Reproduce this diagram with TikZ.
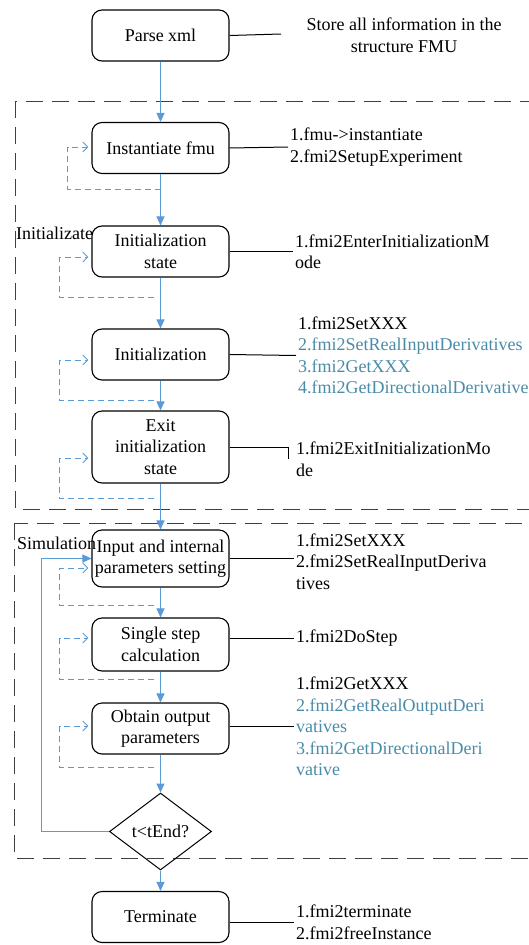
\documentclass[tikz,border=0pt]{standalone}
\usepackage{fontspec}
\setmainfont{Liberation Serif}
\usepackage{xcolor}
\definecolor{flowblue}{HTML}{5B9BD5}
\definecolor{apiblue}{HTML}{4A8BA8}
\usetikzlibrary{arrows.meta,shapes.geometric}

\begin{document}
\begin{tikzpicture}[x=1pt,y=-1pt,
    every node/.style={font=\fontsize{18}{21.5}\selectfont},
    proc/.style={draw,line width=1.1pt,rounded corners=10pt,minimum width=137pt,minimum height=51pt,align=center,inner sep=2pt},
    note/.style={align=left,inner sep=2pt,anchor=west},
    flow/.style={flowblue,line width=1pt,-{Triangle[length=9pt,width=8pt]}},
    loopback/.style={flowblue,line width=0.9pt,dash pattern=on 6pt off 4pt,-{Straight Barb[length=5pt,width=10pt]},shorten >=3pt},
    annot/.style={line width=1pt},
    region/.style={line width=1pt,black!75,dash pattern=on 17pt off 9pt}]

    \useasboundingbox (0,0) rectangle (529,945);

    \draw[region] (15,101) rectangle (570,509);
    \draw[region] (14,523) rectangle (570,858);

    \node[proc] (parse) at (160.5,35.5) {Parse xml};
    \node[proc] (inst) at (160.5,148) {Instantiate fmu};
    \node[proc] (initst) at (160.5,251.5) {Initialization\\state};
    \node[proc] (init) at (160.5,354.5) {Initialization};
    \node[proc,minimum height=72pt] (exitst) at (160.5,447) {Exit\\initialization\\state};
    \node[proc,minimum height=57pt] (input) at (160.5,558.5) {Input and internal\\parameters setting};
    \node[proc,minimum height=53pt] (single) at (160.5,644.5) {Single step\\calculation};
    \node[proc] (obtain) at (160.5,728.5) {Obtain output\\parameters};
    \node[draw,diamond,line width=1pt,minimum width=102pt,minimum height=77pt,inner sep=0pt] (cond) at (160.5,831.5) {t<tEnd?};
    \node[proc] (term) at (160.5,917) {Terminate};

    \node[inner sep=0pt,anchor=west] (initlabel) at (16,233) {Initializate};
    \node[inner sep=0pt,anchor=west] (simlabel) at (17,543) {Simulation};

    \node[align=center,inner sep=2pt] (parsenote) at (404,35) {Store all information in the\\structure FMU};
    \node[note] (instnote) at (288,147) {1.fmu->instantiate\\2.fmi2SetupExperiment};
    \node[note] (initstnote) at (293,251.5) {1.fmi2EnterInitializationM\\ode};
    \node[note] (initnote) at (296,355.5) {1.fmi2SetXXX\\\textcolor{apiblue}{2.fmi2SetRealInputDerivatives}\\\textcolor{apiblue}{3.fmi2GetXXX}\\\textcolor{apiblue}{4.fmi2GetDirectionalDerivatives}};
    \node[note] (exitnote) at (294,459) {1.fmi2ExitInitializationMo\\de};
    \node[note] (inputnote) at (294,561.5) {1.fmi2SetXXX\\2.fmi2SetRealInputDeriva\\tives};
    \node[note] (singlenote) at (294,638.5) {1.fmi2DoStep};
    \node[note] (obtainnote) at (294,726.5) {1.fmi2GetXXX\\\textcolor{apiblue}{2.fmi2GetRealOutputDeri}\\\textcolor{apiblue}{vatives}\\\textcolor{apiblue}{3.fmi2GetDirectionalDeri}\\\textcolor{apiblue}{vative}};
    \node[note] (termnote) at (294,922.5) {1.fmi2terminate\\2.fmi2freeInstance};

    \coordinate (parseend) at (281,34);
    \draw[annot] (parse.east) -- (parseend);
    \draw[annot] (inst.east) -- (instnote.west);
    \draw[annot] (initst.east) -- (initstnote.west);
    \draw[annot] (init.east) -- (initnote.west);
    \draw[annot] (exitst.east) -| ([xshift=-6pt]exitnote.west);
    \draw[annot] (input.east) -- (inputnote.west |- input.east);
    \draw[annot] (single.east |- singlenote.west) -- (singlenote.west);
    \draw[annot] (obtain.east |- obtainnote.west) -- (obtainnote.west);
    \draw[annot] (term.east |- termnote.west) -- (termnote.west);

    \draw[flow] (parse) -- (inst);
    \draw[flow] (inst) -- (initst);
    \draw[flow] (initst) -- (init);
    \draw[flow] (init) -- (exitst);
    \draw[flow] (exitst) -- (input);
    \draw[flow] (input) -- (single);
    \draw[flow] (single) -- (obtain);
    \draw[flow] (obtain) -- (cond);
    \draw[flow] (cond) -- (term);
    \draw[flow] (cond.west) -- ++(-68,0) |- (input.west);

    \draw[loopback] ([yshift=-15pt]inst.south) -- ++(-93,0) |- ([yshift=1pt]inst.west);
    \draw[loopback] ([xshift=-7pt,yshift=-20pt]initst.south) -- ++(-94,0) |- ([yshift=-5.5pt]initst.west);
    \draw[loopback] ([xshift=-7pt,yshift=-20pt]init.south) -- ++(-94,0) |- ([yshift=-5.5pt]init.west);
    \draw[loopback] ([xshift=-7pt,yshift=-15pt]exitst.south) -- ++(-94,0) |- ([yshift=-11pt]exitst.west);
    \draw[loopback] ([xshift=-7pt,yshift=-18pt]input.south) -- ++(-94,0) |- ([yshift=-9.5pt]input.west);
    \draw[loopback] ([xshift=-7pt,yshift=-8pt]single.south) -- ++(-94,0) |- ([yshift=6.5pt]single.west);
    \draw[loopback] ([xshift=-7pt,yshift=-13pt]obtain.south) -- ++(-94,0) |- ([yshift=2.5pt]obtain.west);

\end{tikzpicture}
\end{document}
